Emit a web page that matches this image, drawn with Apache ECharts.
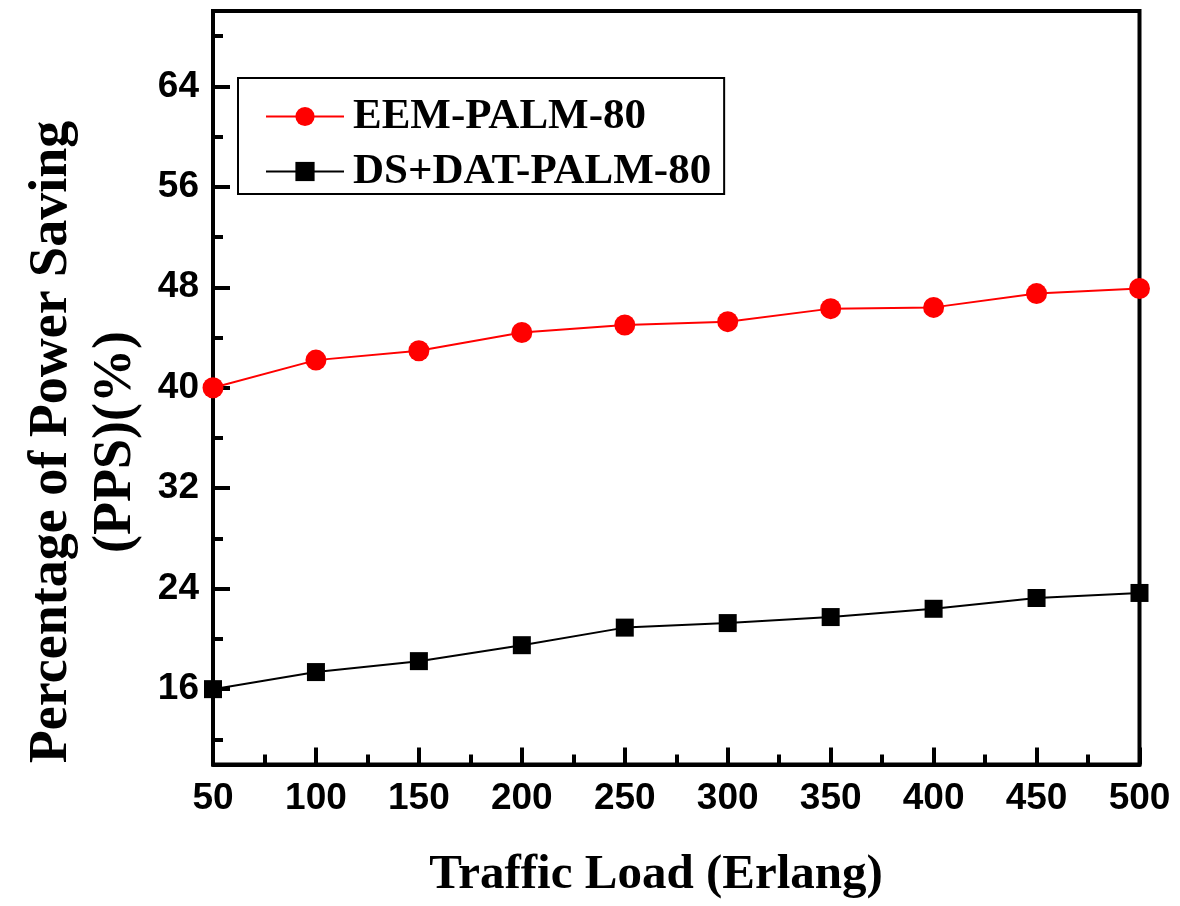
<!DOCTYPE html>
<html>
<head>
<meta charset="utf-8">
<script src="https://cdn.jsdelivr.net/npm/echarts@6/dist/echarts.min.js"></script>
<style>html,body{margin:0;padding:0;background:#fff}#c{width:1180px;height:906px}</style>
</head>
<body>
<div id="c"></div>
<script>
var trafficLoad = [50, 100, 150, 200, 250, 300, 350, 400, 450, 500];
var eemPalm80 = [40.0, 42.2, 42.95, 44.4, 45.0, 45.26, 46.3, 46.4, 47.5, 47.9];
var dsDatPalm80 = [16.0, 17.36, 18.23, 19.5, 20.9, 21.26, 21.74, 22.4, 23.26, 23.66];
var yMajorTicks = [16, 24, 32, 40, 48, 56, 64];
var yMinorTicks = [12, 20, 28, 36, 44, 52, 60, 68];
var seriesNames = ['EEM-PALM-80', 'DS+DAT-PALM-80'];
var xTitle = 'Traffic Load (Erlang)';
var yTitle = 'Percentage of Power Saving\n(PPS)(%)';

function pairs(xs, ys) { return xs.map(function (x, i) { return [x, ys[i]]; }); }

var chart = echarts.init(document.getElementById('c'), null, { renderer: 'canvas' });
var tickFont = { color: '#000', fontFamily: 'Liberation Sans', fontWeight: 'bold', fontSize: 37 };
chart.setOption({
  animation: false,
  backgroundColor: '#fff',
  grid: { left: 213, right: 40.5, top: 11, bottom: 141.5, show: true, borderColor: '#000', borderWidth: 4, backgroundColor: 'transparent' },
  legend: {
    orient: 'vertical', left: 238, top: 78, align: 'left',
    selectedMode: false,
    itemWidth: 78, itemHeight: 24, itemGap: 12,
    padding: [17, 13, 1, 27],
    borderColor: '#000', borderWidth: 2,
    textStyle: { color: '#000', fontFamily: 'Liberation Serif', fontWeight: 'bold', fontSize: 43, padding: [0, 0, 0, 4] },
    data: seriesNames
  },
  xAxis: {
    type: 'value', min: 50, max: 500, interval: 50,
    axisLine: { show: true, lineStyle: { color: '#000', width: 4 } },
    axisTick: { show: true, inside: true, length: 17, lineStyle: { color: '#000', width: 4 } },
    minorTick: { show: true, splitNumber: 2, length: 10, lineStyle: { color: '#000', width: 4 } },
    splitLine: { show: false },
    minorSplitLine: { show: false },
    axisLabel: Object.assign({ margin: 16 }, tickFont)
  },
  yAxis: [{
    type: 'value', min: 10, max: 70,
    axisLine: { show: true, lineStyle: { color: '#000', width: 4 } },
    axisTick: { show: true, inside: true, length: 17, customValues: yMajorTicks, lineStyle: { color: '#000', width: 4 } },
    splitLine: { show: false },
    axisLabel: Object.assign({ margin: 14, customValues: yMajorTicks }, tickFont)
  }, {
    type: 'value', min: 10, max: 70, position: 'left',
    axisLine: { show: false },
    axisTick: { show: true, inside: true, length: 10, customValues: yMinorTicks, lineStyle: { color: '#000', width: 4 } },
    splitLine: { show: false },
    axisLabel: { show: false }
  }],
  graphic: [{
    type: 'text', x: 656, y: 875,
    style: { text: xTitle, fill: '#000', font: 'bold 49px "Liberation Serif"', textAlign: 'center', textVerticalAlign: 'middle' }
  }, {
    type: 'text', x: 84, y: 442, rotation: Math.PI / 2,
    style: { text: yTitle, fill: '#000', font: 'bold 54px "Liberation Serif"', lineHeight: 64, textAlign: 'center', textVerticalAlign: 'middle' }
  }],
  series: [{
    name: seriesNames[0], type: 'line', yAxisIndex: 0,
    data: pairs(trafficLoad, eemPalm80),
    symbol: 'circle', symbolSize: 21,
    lineStyle: { color: '#ff0000', width: 2 },
    itemStyle: { color: '#ff0000' },
    z: 5
  }, {
    name: seriesNames[1], type: 'line', yAxisIndex: 0,
    data: pairs(trafficLoad, dsDatPalm80),
    symbol: 'rect', symbolSize: 18,
    lineStyle: { color: '#000', width: 2 },
    itemStyle: { color: '#000' },
    z: 5
  }]
});
</script>
</body>
</html>
